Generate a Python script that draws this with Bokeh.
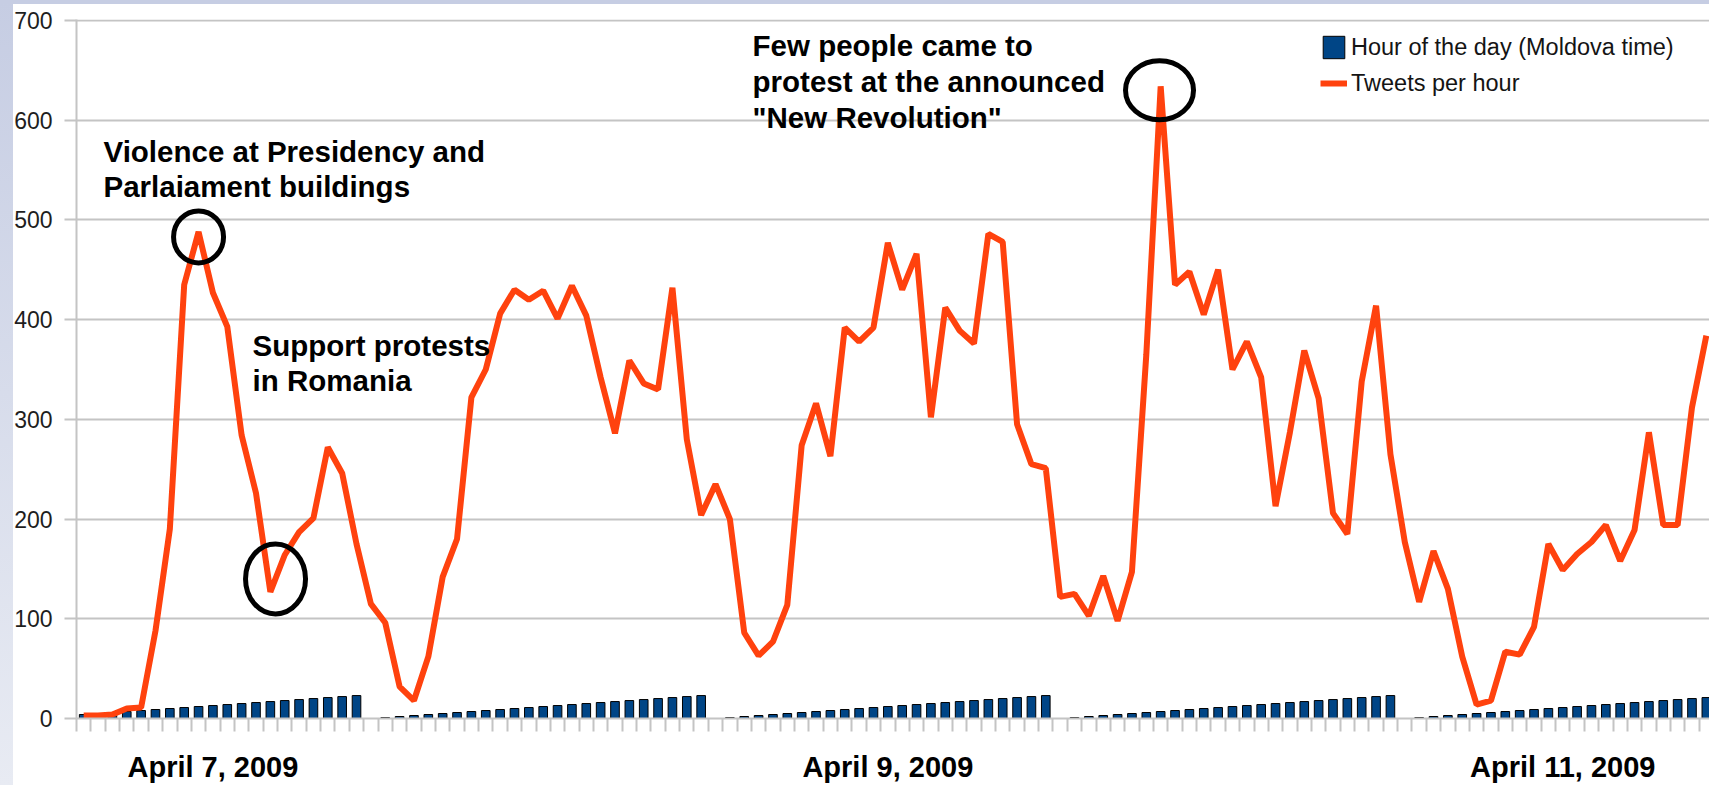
from bokeh.plotting import figure
from bokeh.models import Range1d, FixedTicker, ColumnDataSource
from bokeh.core.properties import value
from bokeh.embed import file_html
from bokeh.resources import INLINE

# ---------------- data ----------------
# hourly series, starting April 7, 2009 04:00 (Moldova time)
hour_of_day = [
    4, 5, 6, 7, 8, 9, 10, 11, 12, 13, 14, 15, 16, 17, 18, 19, 20, 21, 22, 23,
    0, 1, 2, 3, 4, 5, 6, 7, 8, 9, 10, 11, 12, 13, 14, 15, 16, 17, 18, 19, 20, 21, 22, 23,
    0, 1, 2, 3, 4, 5, 6, 7, 8, 9, 10, 11, 12, 13, 14, 15, 16, 17, 18, 19, 20, 21, 22, 23,
    0, 1, 2, 3, 4, 5, 6, 7, 8, 9, 10, 11, 12, 13, 14, 15, 16, 17, 18, 19, 20, 21, 22, 23,
    0, 1, 2, 3, 4, 5, 6, 7, 8, 9, 10, 11, 12, 13, 14, 15, 16, 17, 18, 19, 20, 21,
]
tweets_per_hour = [
    3, 3, 4, 10, 11, 88, 190, 435, 488, 427, 393, 284, 226, 127, 164, 187, 201, 272, 246, 175,
    115, 96, 32, 18, 62, 142, 180, 322, 350, 406, 430, 420, 429, 401, 434, 404, 342, 286, 359, 336,
    330, 432, 280, 204,
    235, 200, 86, 63, 77, 114, 274, 316, 263, 392, 378, 392, 477, 430, 466, 302, 412, 389, 376, 486,
    478, 295, 255, 251,
    122, 125, 103, 143, 98, 147, 365, 634, 435, 448, 405, 450, 350, 378, 342, 213, 287, 369, 321, 206,
    185, 338, 414, 265,
    177, 117, 168, 130, 62, 14, 18, 67, 64, 92, 175, 149, 165, 177, 194, 158, 189, 287, 194, 194,
    312, 384,
]
y_ticks = [0, 100, 200, 300, 400, 500, 600, 700]
date_labels = ["April 7, 2009", "April 9, 2009", "April 11, 2009"]
date_label_index = [9, 56, 103]
series_names = ["Hour of the day (Moldova time)", "Tweets per hour"]

# annotations (text + hand-drawn circles)
note_text = ["Violence at Presidency and", "Parlaiament buildings",
             "Support protests", "in Romania",
             "Few people came to", "protest at the announced", "\"New Revolution\""]
note_x = [1.88, 1.88, 12.26, 12.26, 47.08, 47.08, 47.08]
note_y = [569, 534, 374, 339, 675, 639, 603]
circle_x = [8.5, 13.86, 75.42]
circle_y = [483, 140, 630]
circle_w = [50, 60, 68]
circle_h = [52, 70, 59]

# ---------------- figure ----------------
n = len(tweets_per_hour)
xs = [i + 0.5 for i in range(n)]
src = ColumnDataSource(dict(
    x=xs, hours=hour_of_day, tweets=tweets_per_hour,
    bar_line_alpha=[0.0 if h == 0 else 1.0 for h in hour_of_day],
))

FONT_NAME = "Liberation Sans"
GRID = "#c4c4c4"

p = figure(width=1709, height=785, x_range=Range1d(0, 113.72), y_range=Range1d(0, 701),
           output_backend="svg", toolbar_location=None,
           min_border_left=76, min_border_right=0, min_border_top=19, min_border_bottom=65,
           background_fill_color="white", border_fill_color=None, outline_line_color=None)
p.title.visible = False
p.styles = {"background": (
    "linear-gradient(#c6cde3, #c6cde3) 0 0 / 100% 4px no-repeat, "
    "linear-gradient(#c6cde3, #e8ebf3) 0 0 / 13px 100% no-repeat, #ffffff")}

# grid / axes
p.xgrid.grid_line_color = None
p.ygrid.grid_line_color = GRID
p.ygrid.grid_line_width = 2
p.ygrid.ticker = FixedTicker(ticks=y_ticks)

p.yaxis.ticker = FixedTicker(ticks=y_ticks)
p.yaxis.axis_line_color = GRID
p.yaxis.axis_line_width = 2
p.yaxis.major_tick_line_color = GRID
p.yaxis.major_tick_line_width = 2
p.yaxis.major_tick_out = 12
p.yaxis.major_tick_in = 0
p.yaxis.minor_tick_line_color = None
p.yaxis.major_label_standoff = 12
p.yaxis.major_label_text_font = FONT_NAME
p.yaxis.major_label_text_font_size = "23px"
p.yaxis.major_label_text_color = "#1e1e1e"

boundaries = list(range(0, 114))
label_pos = [i + 0.5 for i in date_label_index]
p.xaxis.ticker = FixedTicker(ticks=label_pos, minor_ticks=boundaries)
p.xaxis.major_label_overrides = {pos: lab for pos, lab in zip(label_pos, date_labels)}
p.xaxis.major_label_text_font = FONT_NAME
p.xaxis.major_label_text_font_style = "bold"
p.xaxis.major_label_text_font_size = "29px"
p.xaxis.major_label_text_color = "black"
p.xaxis.major_label_standoff = 19
p.xaxis.axis_line_color = GRID
p.xaxis.axis_line_width = 2
p.xaxis.major_tick_line_color = None
p.xaxis.major_tick_out = 13
p.xaxis.major_tick_in = 0
p.xaxis.minor_tick_line_color = GRID
p.xaxis.minor_tick_line_width = 2
p.xaxis.minor_tick_out = 13
p.xaxis.minor_tick_in = 0

# bars (hour of day) and line (tweets per hour)
p.vbar(x="x", top="hours", width=0.6, source=src, fill_color="#004586",
       line_color="black", line_width=1, line_alpha="bar_line_alpha",
       legend_label=series_names[0])
p.line(x="x", y="tweets", source=src, line_color="#ff420e", line_width=6,
       legend_label=series_names[1])

# circles
p.ellipse(x=circle_x, y=circle_y, width=circle_w, height=circle_h,
          width_units="screen", height_units="screen",
          fill_alpha=0, line_color="black", line_width=5)

# notes
p.text(x=note_x, y=note_y, text=note_text, text_font=value(FONT_NAME), text_font_style="bold",
       text_font_size="29.5px", text_color="black", text_baseline="alphabetic",
       text_align="left")

# legend
leg = p.legend[0]
leg.location = (1244, 621)
leg.margin = 0
leg.padding = 0
leg.spacing = 8
leg.glyph_width = 27
leg.glyph_height = 28
leg.label_height = 28
leg.label_standoff = 4
leg.border_line_color = None
leg.background_fill_alpha = 0
leg.label_text_font = FONT_NAME
leg.label_text_font_size = "23.5px"
leg.label_text_color = "#141414"

open("out.html", "w").write(file_html(p, INLINE))
